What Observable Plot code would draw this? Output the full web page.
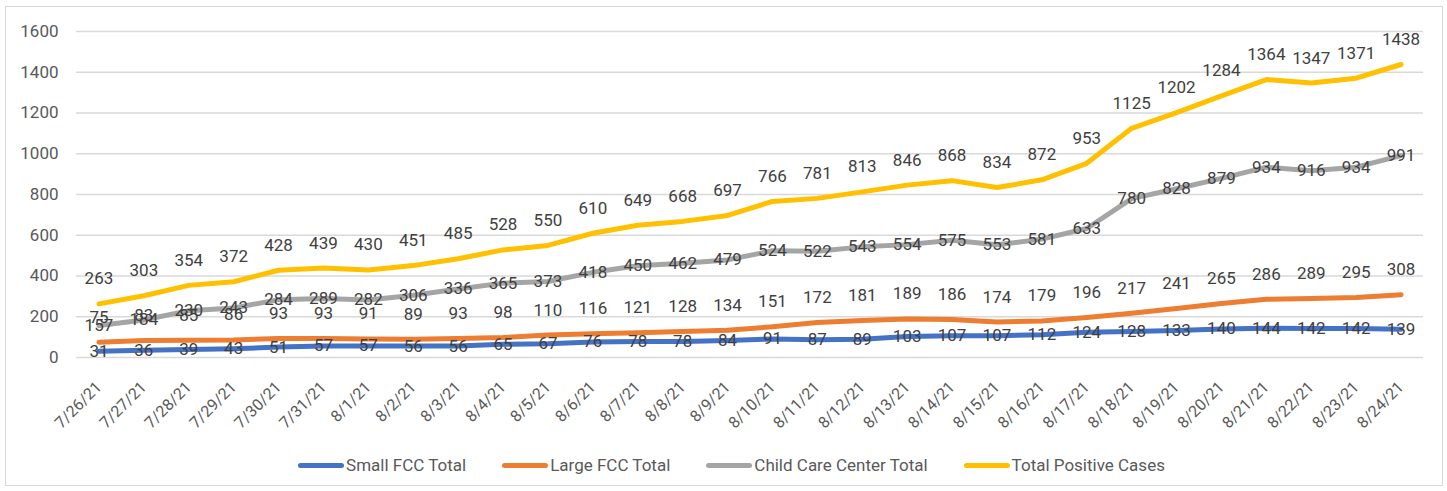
<!DOCTYPE html>
<html><head><meta charset="utf-8">
<script src="https://cdn.jsdelivr.net/npm/d3@7"></script>
<script src="https://cdn.jsdelivr.net/npm/@observablehq/plot@0.6"></script>
<style>
body{margin:0;background:#fff;font-family:Roboto,sans-serif;}
#frame{position:absolute;left:5px;top:6px;width:1436px;height:478px;border:1px solid #d9d9d9;background:#fff;}
#chart{position:absolute;left:0;top:0;}
#legend{position:absolute;left:0;top:446px;width:100%;height:24px;display:flex;justify-content:center;align-items:center;padding-left:15px;box-sizing:border-box;font-size:17px;color:#595959;}
.item{display:flex;align-items:center;margin:0 18px;}
.sw{width:46px;height:5px;border-radius:3px;margin-right:2px;}
</style></head><body>
<div id="frame"><div id="chart"></div><div id="legend"></div></div>
<script>
const dates = ["7/26/21","7/27/21","7/28/21","7/29/21","7/30/21","7/31/21","8/1/21","8/2/21","8/3/21","8/4/21","8/5/21","8/6/21","8/7/21","8/8/21","8/9/21","8/10/21","8/11/21","8/12/21","8/13/21","8/14/21","8/15/21","8/16/21","8/17/21","8/18/21","8/19/21","8/20/21","8/21/21","8/22/21","8/23/21","8/24/21"];
const smallFCC = [31,36,39,43,51,57,57,56,56,65,67,76,78,78,84,91,87,89,103,107,107,112,124,128,133,140,144,142,142,139];
const largeFCC = [75,83,85,86,93,93,91,89,93,98,110,116,121,128,134,151,172,181,189,186,174,179,196,217,241,265,286,289,295,308];
const childCare = [157,184,230,243,284,289,282,306,336,365,373,418,450,462,479,524,522,543,554,575,553,581,633,780,828,879,934,916,934,991];
const totalCases = [263,303,354,372,428,439,430,451,485,528,550,610,649,668,697,766,781,813,846,868,834,872,953,1125,1202,1284,1364,1347,1371,1438];
const seriesNames = ["Small FCC Total","Large FCC Total","Child Care Center Total","Total Positive Cases"];
const seriesColors = ["#4472C4","#ED7D31","#A5A5A5","#FFC000"];
const yTicks = [0,200,400,600,800,1000,1200,1400,1600];

const seriesValues = [smallFCC, largeFCC, childCare, totalCases];
const labelDy = [0, -25, 0, -25];
const rows = seriesValues.map((vals, s) => dates.map((d, i) => ({date: d, value: vals[i], series: seriesNames[s]})));

const marks = [
  Plot.gridY(yTicks, {stroke: "#d9d9d9", strokeOpacity: 1, strokeWidth: 1.3}),
  Plot.axisY({ticks: yTicks, tickSize: 0, tickPadding: 18, tickFormat: d => String(d), fill: "#595959"}),
  Plot.axisX({tickRotate: -45, tickSize: 0, tickPadding: 27, fontSize: 16, fill: "#595959"}),
  ...rows.map((r, s) => Plot.line(r, {x: "date", y: "value", stroke: seriesColors[s], strokeWidth: 5, strokeLinejoin: "round", strokeLinecap: "round"})),
  ...rows.map((r, s) => Plot.text(r, {x: "date", y: "value", text: d => String(d.value), dy: labelDy[s], fill: "#404040", fontSize: 17}))
];

const chart = Plot.plot({
  width: 1436, height: 435,
  marginLeft: 70, marginRight: 19, marginTop: 24, marginBottom: 85,
  style: {fontFamily: "Roboto, sans-serif", fontSize: "17px", color: "#595959", background: "transparent"},
  x: {type: "point", domain: dates, padding: 0.5, round: false, label: null},
  y: {domain: [0, 1600], label: null},
  marks
});
document.getElementById("chart").appendChild(chart);

const legend = document.getElementById("legend");
seriesNames.forEach((n, i) => {
  const it = document.createElement("div"); it.className = "item";
  const sw = document.createElement("div"); sw.className = "sw"; sw.style.background = seriesColors[i];
  const t = document.createElement("span"); t.textContent = n;
  it.appendChild(sw); it.appendChild(t); legend.appendChild(it);
});
</script>
</body></html>
